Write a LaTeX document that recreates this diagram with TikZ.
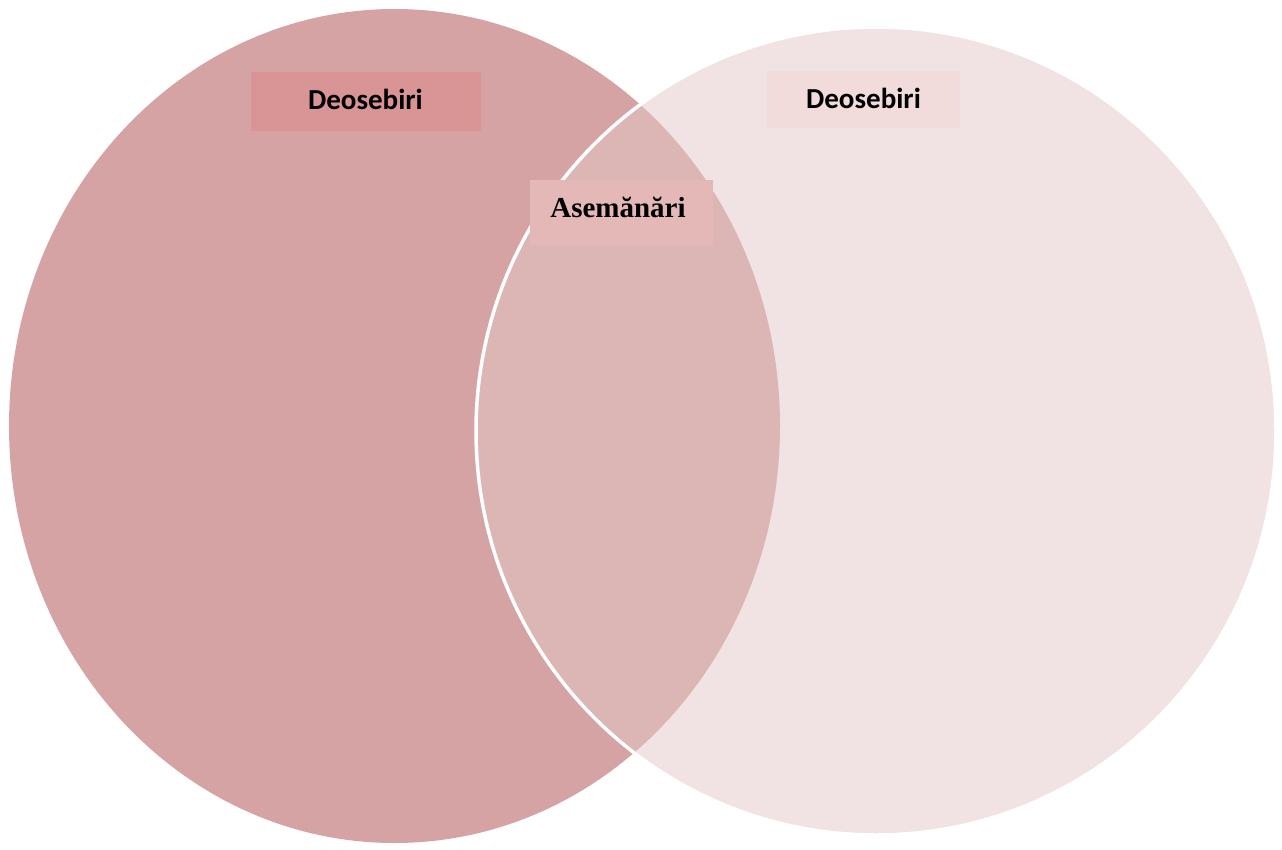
\documentclass[tikz,border=0pt]{standalone}
\usepackage{fontspec}
\newfontfamily\calfont{Carlito}
\newfontfamily\timesfont{Liberation Serif}
\definecolor{leftc}{RGB}{213,163,163}
\definecolor{rightc}{RGB}{241,226,227}
\definecolor{overc}{RGB}{220,181,181}
\definecolor{lboxc}{RGB}{217,149,149}
\definecolor{rboxc}{RGB}{242,219,219}
\definecolor{aboxc}{RGB}{229,184,184}
\tikzset{
  labelbox/.style={inner sep=0pt, anchor=center, text=black},
}
\begin{document}
\begin{tikzpicture}[x=1pt,y=-1pt]
\useasboundingbox (0,0) rectangle (1282,849);
\fill[leftc] (394.5,426) ellipse [x radius=385.5, y radius=417];
\fill[rightc] (876,431) ellipse [x radius=400, y radius=404];
\begin{scope}
  \clip (394.5,426) ellipse [x radius=385.5, y radius=417];
  \fill[overc] (876,431) ellipse [x radius=400, y radius=404];
\end{scope}
\draw[white, line width=3.5pt] (876,431) ellipse [x radius=400, y radius=404];
\node[labelbox, fill=lboxc, minimum width=230pt, minimum height=59pt] (lbox) at (366,101.5) {};
\node[labelbox, fill=rboxc, minimum width=193pt, minimum height=57pt] (rbox) at (863.5,99.5) {};
\node[labelbox, fill=aboxc, minimum width=183pt, minimum height=65pt] (abox) at (621.5,212.5) {};
\node[anchor=base] (ltext) at (365.5,109.5) {\calfont\bfseries\fontsize{29}{29}\selectfont Deosebiri};
\node[anchor=base] (rtext) at (863.5,108.5) {\calfont\bfseries\fontsize{29}{29}\selectfont Deosebiri};
\node[anchor=base] (atext) at (618,217) {\timesfont\bfseries\fontsize{29}{29}\selectfont Asemănări};
\end{tikzpicture}
\end{document}
